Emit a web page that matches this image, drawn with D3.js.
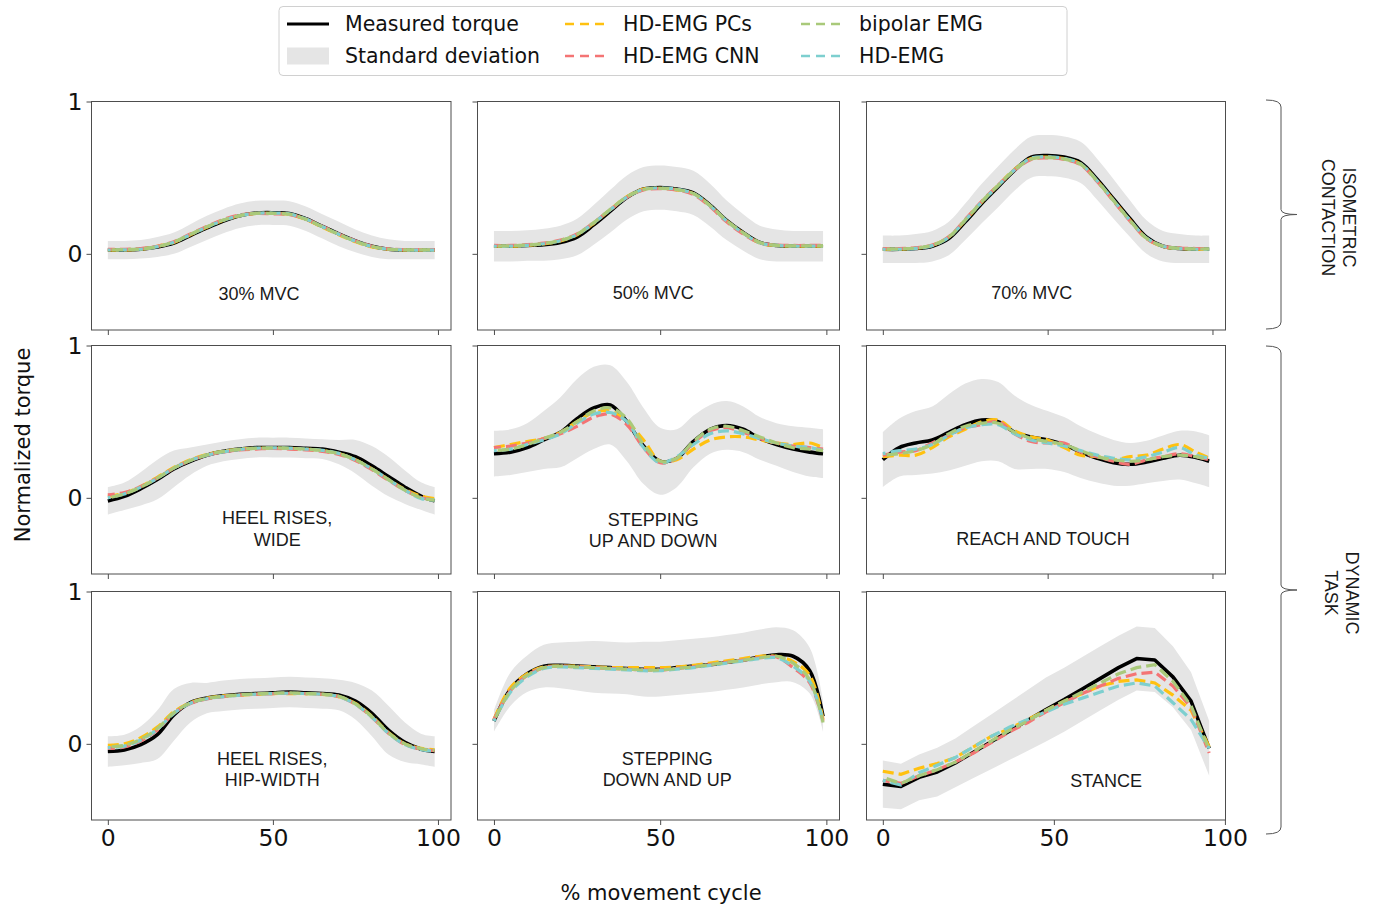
<!DOCTYPE html>
<html>
<head>
<meta charset="utf-8">
<script src="https://cdn.jsdelivr.net/npm/d3@7"></script>
<style>
  body { margin: 0; background: #fff; }
  svg { display: block; }
</style>
</head>
<body>
<svg id="chart" width="1379" height="907"></svg>
<script>
// ---- data ----
var xCycle = [0, 5, 10, 15, 20, 25, 30, 35, 40, 45, 50, 55, 60, 65, 70, 75, 80, 85, 90, 95, 99];
var xStance = [0, 5.3, 10.6, 15.9, 21.2, 26.5, 31.8, 37.1, 42.4, 47.7, 53, 58.3, 63.6, 68.9, 74.2, 79.5, 84.8, 90.1, 95.4];

// 30% MVC
var mvc30Mean = [0.025,0.025,0.03,0.045,0.07,0.12,0.17,0.215,0.25,0.268,0.27,0.265,0.23,0.18,0.13,0.085,0.05,0.03,0.025,0.025,0.025];
var mvc30Sd = [0.06,0.06,0.06,0.065,0.07,0.075,0.08,0.08,0.08,0.08,0.08,0.08,0.08,0.08,0.08,0.075,0.07,0.065,0.06,0.06,0.06];
var mvc30Pcs = [0.025,0.025,0.03,0.05,0.075,0.125,0.175,0.22,0.25,0.265,0.265,0.26,0.225,0.175,0.125,0.08,0.045,0.03,0.025,0.025,0.025];
var mvc30Cnn = [0.03,0.03,0.035,0.05,0.08,0.13,0.18,0.225,0.255,0.265,0.262,0.258,0.228,0.18,0.13,0.085,0.05,0.032,0.028,0.028,0.028];
var mvc30Bipolar = [0.025,0.028,0.032,0.048,0.078,0.128,0.178,0.222,0.252,0.266,0.265,0.26,0.226,0.178,0.128,0.082,0.048,0.03,0.026,0.026,0.026];
var mvc30Hd = [0.025,0.026,0.03,0.047,0.076,0.126,0.176,0.22,0.25,0.266,0.268,0.262,0.228,0.178,0.128,0.083,0.048,0.03,0.025,0.025,0.025];

// 50% MVC
var mvc50Mean = [0.05,0.05,0.055,0.06,0.075,0.11,0.19,0.28,0.37,0.425,0.435,0.425,0.40,0.32,0.22,0.14,0.075,0.055,0.05,0.05,0.05];
var mvc50Sd = [0.10,0.10,0.10,0.105,0.11,0.12,0.13,0.14,0.145,0.145,0.145,0.145,0.145,0.14,0.13,0.12,0.11,0.105,0.10,0.10,0.10];
var mvc50Pcs = [0.05,0.05,0.055,0.065,0.085,0.125,0.20,0.29,0.375,0.425,0.43,0.42,0.395,0.315,0.215,0.135,0.07,0.055,0.05,0.05,0.05];
var mvc50Cnn = [0.055,0.055,0.06,0.07,0.09,0.13,0.205,0.29,0.37,0.42,0.428,0.42,0.39,0.31,0.21,0.13,0.072,0.058,0.055,0.055,0.055];
var mvc50Bipolar = [0.05,0.052,0.058,0.068,0.088,0.128,0.205,0.292,0.375,0.422,0.43,0.422,0.395,0.318,0.218,0.138,0.074,0.056,0.052,0.052,0.052];
var mvc50Hd = [0.05,0.05,0.056,0.066,0.086,0.126,0.202,0.29,0.372,0.424,0.432,0.424,0.396,0.316,0.216,0.136,0.072,0.055,0.05,0.05,0.05];

// 70% MVC
var mvc70Mean = [0.03,0.03,0.035,0.05,0.10,0.21,0.33,0.44,0.55,0.635,0.645,0.635,0.60,0.49,0.36,0.23,0.11,0.05,0.035,0.03,0.03];
var mvc70Sd = [0.09,0.09,0.095,0.10,0.11,0.12,0.13,0.135,0.135,0.135,0.135,0.135,0.135,0.135,0.13,0.12,0.11,0.10,0.095,0.09,0.09];
var mvc70Pcs = [0.03,0.03,0.037,0.055,0.11,0.22,0.34,0.45,0.555,0.625,0.635,0.625,0.59,0.48,0.35,0.22,0.10,0.048,0.035,0.03,0.03];
var mvc70Cnn = [0.035,0.035,0.04,0.058,0.112,0.225,0.345,0.452,0.55,0.62,0.63,0.62,0.585,0.475,0.345,0.215,0.10,0.05,0.038,0.035,0.035];
var mvc70Bipolar = [0.03,0.032,0.038,0.056,0.11,0.222,0.342,0.45,0.552,0.622,0.632,0.622,0.588,0.478,0.348,0.218,0.102,0.05,0.036,0.032,0.032];
var mvc70Hd = [0.03,0.03,0.036,0.054,0.108,0.22,0.34,0.448,0.552,0.628,0.636,0.626,0.59,0.48,0.35,0.22,0.104,0.05,0.035,0.03,0.03];

// heel rises, wide
var heelWideMean = [-0.02,0.01,0.06,0.12,0.19,0.24,0.28,0.305,0.32,0.33,0.33,0.33,0.325,0.32,0.30,0.27,0.21,0.14,0.07,0.01,-0.02];
var heelWideSd = [0.09,0.09,0.11,0.13,0.12,0.09,0.07,0.065,0.065,0.065,0.065,0.065,0.065,0.065,0.08,0.11,0.13,0.13,0.11,0.09,0.09];
var heelWidePcs = [0.01,0.03,0.075,0.135,0.20,0.25,0.285,0.305,0.32,0.325,0.325,0.325,0.32,0.31,0.29,0.25,0.19,0.12,0.055,0.01,-0.005];
var heelWideCnn = [0.02,0.035,0.075,0.13,0.195,0.245,0.28,0.30,0.315,0.32,0.325,0.32,0.315,0.305,0.285,0.245,0.185,0.115,0.05,0.0,-0.01];
var heelWideBipolar = [0.0,0.025,0.07,0.13,0.195,0.245,0.282,0.305,0.318,0.325,0.328,0.325,0.32,0.31,0.29,0.25,0.19,0.12,0.05,0.0,-0.015];
var heelWideHd = [0.0,0.025,0.07,0.128,0.195,0.245,0.28,0.302,0.318,0.326,0.328,0.326,0.32,0.312,0.292,0.25,0.19,0.12,0.05,-0.005,-0.015];

// stepping up and down
var stepUpMean = [0.29,0.30,0.33,0.38,0.43,0.52,0.59,0.61,0.50,0.34,0.24,0.26,0.37,0.45,0.475,0.45,0.39,0.35,0.32,0.30,0.29];
var stepUpSd = [0.15,0.15,0.16,0.19,0.23,0.26,0.27,0.26,0.26,0.25,0.22,0.19,0.17,0.16,0.16,0.15,0.14,0.14,0.15,0.16,0.16];
var stepUpPcs = [0.33,0.35,0.37,0.39,0.43,0.50,0.56,0.57,0.50,0.38,0.24,0.25,0.32,0.38,0.40,0.40,0.38,0.36,0.35,0.36,0.33];
var stepUpCnn = [0.33,0.34,0.36,0.39,0.42,0.47,0.53,0.55,0.48,0.33,0.23,0.26,0.36,0.44,0.46,0.43,0.39,0.36,0.34,0.33,0.32];
var stepUpBipolar = [0.31,0.32,0.35,0.39,0.43,0.50,0.57,0.59,0.52,0.35,0.24,0.26,0.37,0.45,0.47,0.44,0.40,0.36,0.33,0.32,0.31];
var stepUpHd = [0.31,0.32,0.35,0.38,0.42,0.49,0.55,0.56,0.50,0.33,0.23,0.27,0.35,0.42,0.44,0.42,0.39,0.36,0.34,0.33,0.31];

// reach and touch
var reachMean = [0.25,0.33,0.36,0.38,0.43,0.48,0.51,0.50,0.43,0.40,0.38,0.35,0.30,0.26,0.23,0.22,0.235,0.26,0.28,0.265,0.24];
var reachSd = [0.18,0.19,0.21,0.22,0.25,0.27,0.27,0.26,0.24,0.21,0.19,0.18,0.17,0.16,0.15,0.14,0.14,0.15,0.16,0.17,0.17];
var reachPcs = [0.27,0.28,0.28,0.33,0.40,0.45,0.50,0.51,0.44,0.40,0.38,0.33,0.28,0.27,0.25,0.27,0.28,0.32,0.35,0.30,0.26];
var reachCnn = [0.28,0.30,0.31,0.36,0.41,0.46,0.48,0.50,0.42,0.37,0.36,0.36,0.30,0.27,0.24,0.22,0.25,0.27,0.29,0.27,0.25];
var reachBipolar = [0.28,0.29,0.31,0.35,0.42,0.47,0.49,0.49,0.43,0.39,0.37,0.35,0.31,0.27,0.25,0.24,0.25,0.27,0.28,0.27,0.25];
var reachHd = [0.29,0.31,0.32,0.35,0.41,0.46,0.48,0.48,0.42,0.38,0.36,0.34,0.31,0.28,0.26,0.25,0.27,0.30,0.33,0.28,0.26];

// heel rises, hip-width
var heelHipMean = [-0.05,-0.04,-0.005,0.06,0.19,0.27,0.30,0.315,0.325,0.33,0.335,0.34,0.335,0.33,0.32,0.28,0.20,0.09,0.01,-0.035,-0.05];
var heelHipSd = [0.10,0.10,0.12,0.16,0.17,0.13,0.10,0.10,0.10,0.10,0.10,0.10,0.10,0.10,0.10,0.12,0.15,0.16,0.13,0.10,0.10];
var heelHipPcs = [-0.01,0.0,0.04,0.11,0.21,0.27,0.30,0.315,0.32,0.325,0.33,0.33,0.33,0.325,0.31,0.265,0.18,0.075,0.0,-0.03,-0.04];
var heelHipCnn = [-0.03,-0.02,0.02,0.09,0.20,0.265,0.295,0.31,0.32,0.325,0.33,0.332,0.33,0.325,0.31,0.26,0.175,0.07,-0.005,-0.035,-0.045];
var heelHipBipolar = [-0.02,-0.01,0.03,0.10,0.205,0.268,0.298,0.312,0.322,0.328,0.332,0.334,0.33,0.326,0.312,0.262,0.178,0.072,0.0,-0.032,-0.042];
var heelHipHd = [-0.025,-0.015,0.025,0.095,0.20,0.266,0.296,0.31,0.32,0.326,0.33,0.332,0.33,0.325,0.31,0.26,0.175,0.07,-0.005,-0.038,-0.048];

// stepping down and up
var stepDownMean = [0.15,0.36,0.46,0.51,0.515,0.51,0.505,0.50,0.495,0.49,0.49,0.50,0.51,0.52,0.535,0.55,0.57,0.585,0.575,0.48,0.18];
var stepDownSd = [0.07,0.11,0.12,0.14,0.15,0.16,0.17,0.17,0.17,0.18,0.18,0.18,0.18,0.18,0.18,0.18,0.18,0.18,0.17,0.15,0.10];
var stepDownPcs = [0.16,0.37,0.46,0.505,0.51,0.51,0.505,0.50,0.50,0.50,0.50,0.505,0.515,0.53,0.545,0.56,0.575,0.575,0.54,0.45,0.16];
var stepDownCnn = [0.16,0.35,0.45,0.50,0.51,0.505,0.50,0.495,0.49,0.485,0.485,0.495,0.505,0.52,0.535,0.55,0.565,0.57,0.50,0.40,0.15];
var stepDownBipolar = [0.15,0.35,0.45,0.50,0.51,0.505,0.50,0.495,0.49,0.485,0.485,0.495,0.505,0.52,0.535,0.55,0.565,0.575,0.53,0.42,0.14];
var stepDownHd = [0.15,0.34,0.44,0.495,0.505,0.50,0.495,0.49,0.485,0.48,0.48,0.49,0.50,0.515,0.53,0.545,0.56,0.565,0.51,0.41,0.15];

// stance
var stanceMean = [-0.265,-0.28,-0.22,-0.185,-0.125,-0.055,0.015,0.085,0.155,0.225,0.29,0.36,0.43,0.50,0.56,0.55,0.44,0.28,-0.03];
var stanceSd = [0.155,0.15,0.15,0.16,0.16,0.17,0.18,0.19,0.20,0.21,0.21,0.21,0.21,0.21,0.21,0.21,0.20,0.19,0.18];
var stancePcs = [-0.18,-0.20,-0.16,-0.13,-0.09,-0.02,0.05,0.10,0.16,0.22,0.28,0.33,0.38,0.41,0.42,0.40,0.32,0.22,-0.02];
var stanceCnn = [-0.24,-0.26,-0.21,-0.17,-0.12,-0.06,0.01,0.08,0.14,0.21,0.27,0.33,0.38,0.43,0.46,0.47,0.38,0.24,-0.06];
var stanceBipolar = [-0.22,-0.26,-0.21,-0.17,-0.12,-0.05,0.02,0.09,0.15,0.22,0.28,0.34,0.40,0.46,0.50,0.52,0.41,0.25,-0.04];
var stanceHd = [-0.24,-0.27,-0.19,-0.14,-0.09,-0.02,0.05,0.11,0.16,0.21,0.26,0.30,0.34,0.38,0.40,0.38,0.27,0.16,-0.03];

var xTicks = [0, 50, 100];
var yTicks = [0, 1];
var predNames = ["HD-EMG PCs", "HD-EMG CNN", "bipolar EMG", "HD-EMG"];
var predColors = ["#ffc110", "#f47474", "#a9c97a", "#7dcfcf"];

// ---- layout ----
var colLeft = [91.5, 477.5, 866.5],
	colWidth = [359.5, 362, 359],
	rowTop = [101.5, 345.5, 591.5],
	rowHeight = 228.5;

var panels = [
	{row: 0, col: 0, x: xCycle, mean: mvc30Mean, sd: mvc30Sd, preds: [mvc30Pcs, mvc30Cnn, mvc30Bipolar, mvc30Hd], label: ["30% MVC"], lx: 45.8, ly: -0.27},
	{row: 0, col: 1, x: xCycle, mean: mvc50Mean, sd: mvc50Sd, preds: [mvc50Pcs, mvc50Cnn, mvc50Bipolar, mvc50Hd], label: ["50% MVC"], lx: 47.9, ly: -0.265},
	{row: 0, col: 2, x: xCycle, mean: mvc70Mean, sd: mvc70Sd, preds: [mvc70Pcs, mvc70Cnn, mvc70Bipolar, mvc70Hd], label: ["70% MVC"], lx: 45.2, ly: -0.265},
	{row: 1, col: 0, x: xCycle, mean: heelWideMean, sd: heelWideSd, preds: [heelWidePcs, heelWideCnn, heelWideBipolar, heelWideHd], label: ["HEEL RISES,", "WIDE"], lx: 51.3, ly: -0.14},
	{row: 1, col: 1, x: xCycle, mean: stepUpMean, sd: stepUpSd, preds: [stepUpPcs, stepUpCnn, stepUpBipolar, stepUpHd], label: ["STEPPING", "UP AND DOWN"], lx: 47.9, ly: -0.15},
	{row: 1, col: 2, x: xCycle, mean: reachMean, sd: reachSd, preds: [reachPcs, reachCnn, reachBipolar, reachHd], label: ["REACH AND TOUCH"], lx: 48.6, ly: -0.28},
	{row: 2, col: 0, x: xCycle, mean: heelHipMean, sd: heelHipSd, preds: [heelHipPcs, heelHipCnn, heelHipBipolar, heelHipHd], label: ["HEEL RISES,", "HIP-WIDTH"], lx: 49.8, ly: -0.105},
	{row: 2, col: 1, x: xCycle, mean: stepDownMean, sd: stepDownSd, preds: [stepDownPcs, stepDownCnn, stepDownBipolar, stepDownHd], label: ["STEPPING", "DOWN AND UP"], lx: 52.1, ly: -0.105},
	{row: 2, col: 2, x: xStance, mean: stanceMean, sd: stanceSd, preds: [stancePcs, stanceCnn, stanceBipolar, stanceHd], label: ["STANCE"], lx: 65.3, ly: -0.25, linear: true}
];

var svg = d3.select("#chart");
var tickFont = "'DejaVu Sans', sans-serif";
var panelFont = "'Liberation Sans', Arial, sans-serif";
var spine = "#4d4d4d";

panels.forEach(function(p){
	var left = colLeft[p.col], w = colWidth[p.col],
		top = rowTop[p.row], h = rowHeight;
	var ext = d3.extent(p.x), pad = (ext[1] - ext[0]) * 0.05;
	var x = d3.scaleLinear().domain([ext[0] - pad, ext[1] + pad]).range([left, left + w]);
	var y = d3.scaleLinear().domain([-0.5, 1]).range([top + h, top]);
	var curve = p.linear ? d3.curveLinear : d3.curveCatmullRom;

	var g = svg.append("g");

	// clip to the axes box
	var clipId = "clip" + p.row + p.col;
	svg.append("clipPath").attr("id", clipId)
		.append("rect").attr("x", left).attr("y", top).attr("width", w).attr("height", h);
	var plot = g.append("g").attr("clip-path", "url(#" + clipId + ")");

	var pts = p.x.map(function(v, i){ return {x: v, m: p.mean[i], s: p.sd[i]}; });

	plot.append("path")
		.datum(pts)
		.attr("fill", "#e5e5e5")
		.attr("d", d3.area().curve(curve)
			.x(function(d){ return x(d.x); })
			.y0(function(d){ return y(d.m - d.s); })
			.y1(function(d){ return y(d.m + d.s); }));

	var line = d3.line().curve(curve)
		.x(function(d){ return x(d[0]); })
		.y(function(d){ return y(d[1]); });

	plot.append("path")
		.datum(p.x.map(function(v, i){ return [v, p.mean[i]]; }))
		.attr("fill", "none")
		.attr("stroke", "#000")
		.attr("stroke-width", 3.6)
		.attr("stroke-linejoin", "round")
		.attr("d", line);

	[0, 1, 3, 2].forEach(function(k, j){
		plot.append("path")
			.datum(p.x.map(function(v, i){ return [v, p.preds[k][i]]; }))
			.attr("fill", "none")
			.attr("stroke", predColors[k])
			.attr("stroke-width", 3.2)
			.attr("stroke-dasharray", "11,5")
			.attr("stroke-dashoffset", j * 4)
			.attr("d", line);
	});

	// panel text
	var t = g.append("text")
		.attr("x", x(p.lx))
		.attr("y", y(p.ly))
		.attr("text-anchor", "middle")
		.attr("dominant-baseline", "middle")
		.style("font-family", panelFont)
		.style("font-size", "18px")
		.style("fill", "#1a1a1a");
	p.label.forEach(function(s, i){
		t.append("tspan").attr("x", x(p.lx)).attr("dy", i === 0 ? 0 : 21.5).text(s);
	});

	// frame
	g.append("rect")
		.attr("x", left).attr("y", top).attr("width", w).attr("height", h)
		.attr("fill", "none").attr("stroke", spine).attr("stroke-width", 1);

	// axes
	var xAxis = d3.axisBottom(x).tickValues(xTicks).tickSize(5).tickPadding(4)
		.tickFormat(p.row === 2 ? d3.format("d") : "");
	var yAxis = d3.axisLeft(y).tickValues(yTicks).tickSize(5).tickPadding(4)
		.tickFormat(p.col === 0 ? d3.format("d") : "");

	[g.append("g").attr("transform", "translate(0," + (top + h) + ")").call(xAxis),
	 g.append("g").attr("transform", "translate(" + left + ",0)").call(yAxis)].forEach(function(a){
		a.select(".domain").remove();
		a.selectAll("line").attr("stroke", spine);
		a.selectAll("text")
			.style("font-family", tickFont)
			.style("font-size", "23.5px")
			.attr("fill", "#111");
	});
});

// ---- axis titles ----
svg.append("text")
	.attr("transform", "translate(30,445) rotate(-90)")
	.attr("text-anchor", "middle")
	.style("font-family", tickFont)
	.style("font-size", "21px")
	.style("fill", "#111")
	.text("Normalized torque");

svg.append("text")
	.attr("x", 661).attr("y", 899.5)
	.attr("text-anchor", "middle")
	.style("font-family", tickFont)
	.style("font-size", "21px")
	.style("fill", "#111")
	.text("% movement cycle");

// ---- braces on the right ----
var groups = [
	{y0: 100, y1: 329, lines: ["ISOMETRIC", "CONTACTION"], tx: 1340},
	{y0: 346, y1: 834, lines: ["DYNAMIC", "TASK"], tx: 1343}
];
groups.forEach(function(b){
	var ym = (b.y0 + b.y1) / 2, xs = 1281, xe = 1266, xt = 1297;
	var path = d3.path();
	path.moveTo(xe, b.y0);
	path.quadraticCurveTo(xs, b.y0, xs, b.y0 + 7);
	path.lineTo(xs, ym - 5);
	path.quadraticCurveTo(xs, ym, xt, ym);
	path.quadraticCurveTo(xs, ym, xs, ym + 5);
	path.lineTo(xs, b.y1 - 7);
	path.quadraticCurveTo(xs, b.y1, xe, b.y1);
	svg.append("path").attr("d", path.toString())
		.attr("fill", "none").attr("stroke", "#555").attr("stroke-width", 1);

	var t = svg.append("text")
		.attr("transform", "translate(" + b.tx + "," + (ym + 3) + ") rotate(90)")
		.attr("text-anchor", "middle")
		.style("font-family", panelFont)
		.style("font-size", "18px")
		.style("fill", "#1a1a1a");
	b.lines.forEach(function(s, i){
		t.append("tspan").attr("x", 0).attr("y", i === 0 ? -3 : 18).text(s);
	});
});

// ---- legend ----
var legend = svg.append("g");
legend.append("rect")
	.attr("x", 279).attr("y", 6.5).attr("width", 788).attr("height", 69)
	.attr("rx", 4).attr("fill", "#fff").attr("stroke", "#d0d0d0").attr("stroke-width", 1);

var legendItems = [
	{name: "Measured torque", kind: "line"},
	{name: "Standard deviation", kind: "patch"}
].concat(predNames.map(function(n, i){ return {name: n, kind: "dash", color: predColors[i]}; }));
var legendColX = [287, 565, 801], legendRowY = [24, 56];

legendItems.forEach(function(d, i){
	var cx = legendColX[Math.floor(i / 2)], cy = legendRowY[i % 2];
	if (d.kind === "line") {
		legend.append("line").attr("x1", cx).attr("x2", cx + 42).attr("y1", cy).attr("y2", cy)
			.attr("stroke", "#000").attr("stroke-width", 3);
	} else if (d.kind === "patch") {
		legend.append("rect").attr("x", cx).attr("y", cy - 8.5).attr("width", 42).attr("height", 17)
			.attr("fill", "#e5e5e5");
	} else {
		legend.append("line").attr("x1", cx).attr("x2", cx + 42).attr("y1", cy).attr("y2", cy)
			.attr("stroke", d.color).attr("stroke-width", 2.5).attr("stroke-dasharray", "9,6");
	}
	legend.append("text")
		.attr("x", cx + 58).attr("y", cy)
		.attr("dominant-baseline", "central")
		.style("font-family", tickFont)
		.style("font-size", "20.5px")
		.style("fill", "#111")
		.text(d.name);
});
</script>
</body>
</html>
